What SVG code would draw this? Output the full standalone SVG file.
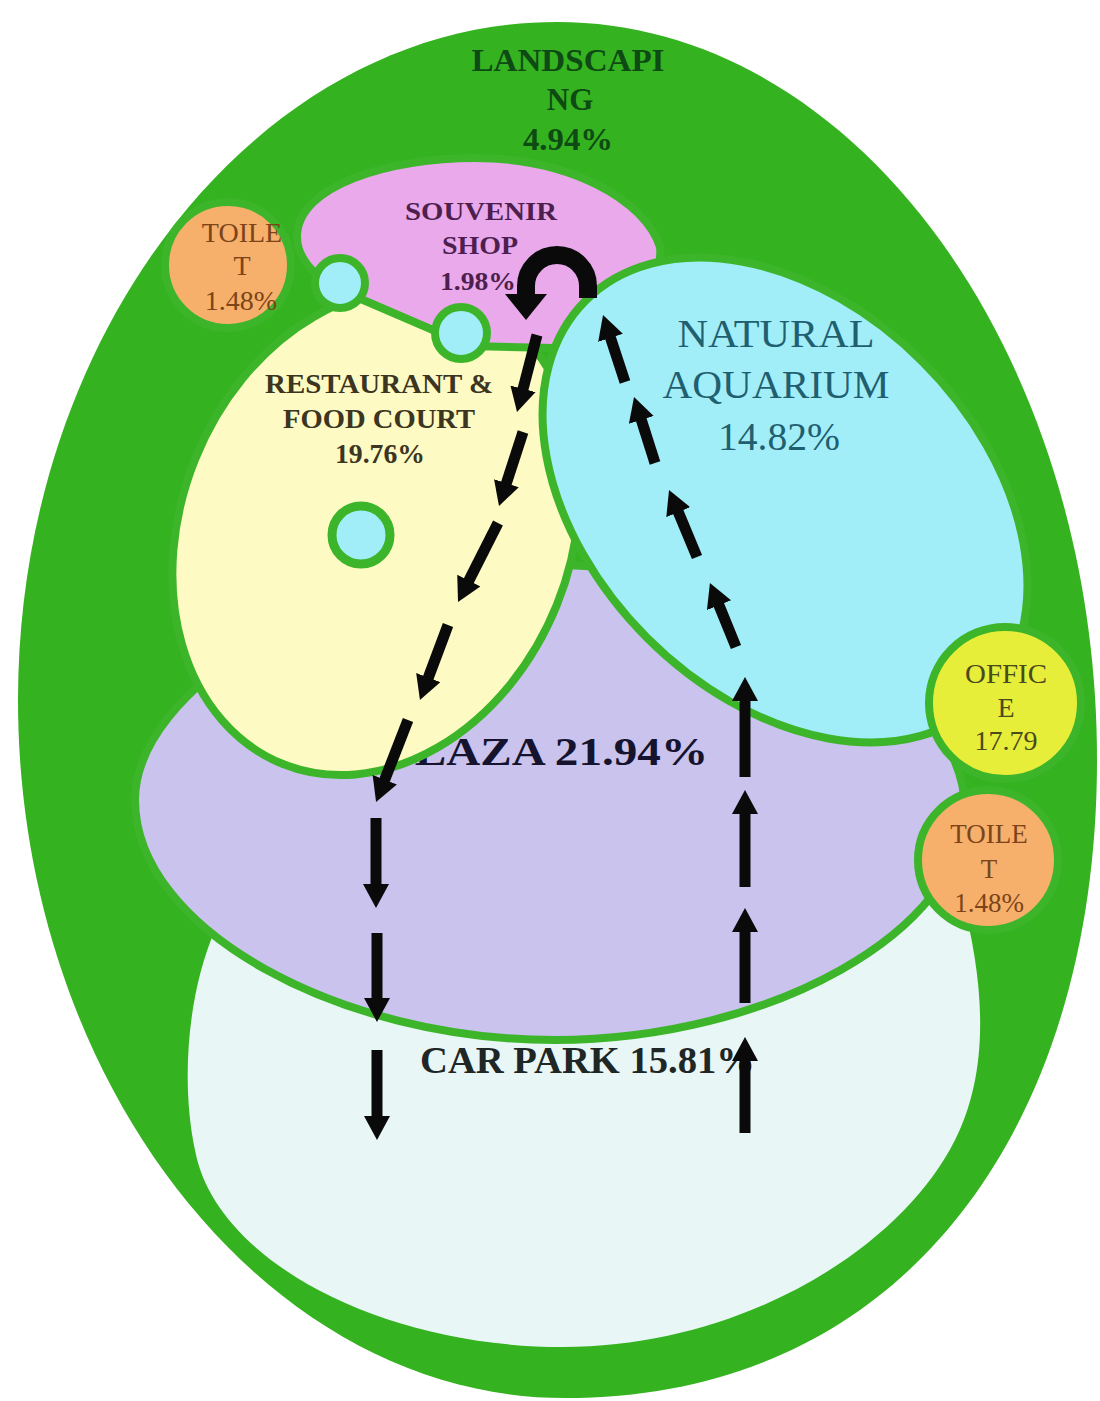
<svg xmlns="http://www.w3.org/2000/svg" width="1100" height="1401" viewBox="0 0 1100 1401">
<style>
.zone{stroke:#3db52a;stroke-width:8}
.lb{font-family:"Liberation Serif","Times New Roman",serif;text-anchor:middle}
.b{font-weight:bold}
.dash{stroke:#0a0a0a;stroke-width:11;fill:none;marker-end:url(#ah)}
</style>
<defs>
<marker id="ah" markerUnits="userSpaceOnUse" markerWidth="24" markerHeight="26" viewBox="0 0 24 26" refX="1" refY="13" orient="auto"><path d="M0,0 L24,13 L0,26 Z" fill="#0a0a0a"/></marker>
</defs>
<rect width="1100" height="1401" fill="#ffffff"/>
<g id="landscaping">
<path d="M557,22 C860,22 1097,360 1097,760 C1097,1120 910,1398 565,1398 C265,1398 18,1080 18,700 C18,330 260,22 557,22 Z" fill="#35b21f"/>
<g class="lb b" fill="#0e4a14" font-size="31">
<text x="568" y="71" textLength="193" lengthAdjust="spacingAndGlyphs">LANDSCAPI</text>
<text x="570" y="110">NG</text>
<text x="568" y="150" textLength="90" lengthAdjust="spacingAndGlyphs">4.94%</text>
</g>
</g>
<g id="car-park">
<path d="M215,930 C185,1000 182,1090 195,1150 C215,1260 380,1347 563,1347 C740,1347 900,1250 955,1140 C985,1080 990,1000 960,890 Z" fill="#e8f6f5"/>
<text class="lb b" x="420" y="1073" font-size="37" fill="#1e2626" style="text-anchor:start" textLength="335" lengthAdjust="spacingAndGlyphs">CAR PARK 15.81%</text>
</g>
<g id="plaza">
<path class="zone" d="M135,800 C135,690 330,565 550,565 C770,565 965,690 965,810 C965,930 770,1040 555,1040 C340,1040 135,930 135,800 Z" fill="#c9c3ee"/>
<text class="lb b" x="386" y="765" font-size="40" fill="#15132e" style="text-anchor:start" textLength="322" lengthAdjust="spacingAndGlyphs">PLAZA 21.94%</text>
</g>
<g id="restaurant">
<ellipse class="zone" cx="376" cy="532" rx="195" ry="250" transform="rotate(22 376 532)" fill="#fdfbc3"/>
<g class="lb b" fill="#3b3522" font-size="27">
<text x="379" y="393" textLength="228" lengthAdjust="spacingAndGlyphs">RESTAURANT &amp;</text>
<text x="379" y="428" textLength="192" lengthAdjust="spacingAndGlyphs">FOOD COURT</text>
<text x="380" y="463" textLength="90" lengthAdjust="spacingAndGlyphs">19.76%</text>
</g>
</g>
<g id="restaurant-pool">
<circle cx="361" cy="535" r="29" fill="#a2eef8" stroke="#3db52a" stroke-width="9"/>
</g>
<g id="toilet-1">
<circle class="zone" cx="228" cy="265" r="63" fill="#f6b06c"/>
<g class="lb" fill="#7c4418" font-size="28">
<text x="242" y="242">TOILE</text>
<text x="242" y="275">T</text>
<text x="241" y="310">1.48%</text>
</g>
</g>
<g id="souvenir-shop">
<path class="zone" d="M297,237 C297,185 390,158 475,158 C570,158 645,200 660,247 C665,300 600,348 553,348 L470,346 L340,290 C312,276 297,256 297,237 Z" fill="#e9a9eb"/>
<g class="lb b" fill="#4d1f4f" font-size="25">
<text x="481" y="220" textLength="152" lengthAdjust="spacingAndGlyphs">SOUVENIR</text>
<text x="480" y="254" textLength="76" lengthAdjust="spacingAndGlyphs">SHOP</text>
<text x="478" y="290" textLength="76" lengthAdjust="spacingAndGlyphs">1.98%</text>
</g>
</g>
<g id="pool-1">
<circle cx="340" cy="283" r="25" fill="#a2eef8" stroke="#3db52a" stroke-width="8"/>
</g>
<g id="pool-2">
<circle cx="461" cy="333" r="26" fill="#a2eef8" stroke="#3db52a" stroke-width="8"/>
</g>
<g id="natural-aquarium">
<ellipse class="zone" cx="785" cy="500" rx="282" ry="195" transform="rotate(45 785 500)" fill="#a2eef8"/>
<g class="lb" fill="#1f5f70" font-size="40">
<text x="776" y="347" textLength="197" lengthAdjust="spacingAndGlyphs">NATURAL</text>
<text x="776" y="398" textLength="227" lengthAdjust="spacingAndGlyphs">AQUARIUM</text>
<text x="779" y="450" textLength="122" lengthAdjust="spacingAndGlyphs">14.82%</text>
</g>
</g>
<g id="toilet-2">
<circle class="zone" cx="988" cy="860" r="70" fill="#f6b06c"/>
<g class="lb" fill="#7c4418" font-size="27">
<text x="989" y="843">TOILE</text>
<text x="989" y="878">T</text>
<text x="989" y="912">1.48%</text>
</g>
</g>
<g id="office">
<circle class="zone" cx="1005" cy="703" r="76" fill="#e6ee3a"/>
<g class="lb" fill="#4a4a1a" font-size="28">
<text x="1006" y="683" textLength="82" lengthAdjust="spacingAndGlyphs">OFFIC</text>
<text x="1006" y="717">E</text>
<text x="1006" y="750">17.79</text>
</g>
</g>
<g id="connectors">
<path d="M588,298 L588,286 A31,31 0 0 0 526,286 L526,296" stroke="#0a0a0a" stroke-width="18" fill="none"/>
<polygon points="505,294 547,294 526,320" fill="#0a0a0a"/>
<line class="dash" x1="537" y1="335" x2="522.8" y2="389.8"/>
<line class="dash" x1="523" y1="432" x2="506.1" y2="484.1"/>
<line class="dash" x1="498" y1="523" x2="468.4" y2="581.5"/>
<line class="dash" x1="448" y1="625" x2="428" y2="678.5"/>
<line class="dash" x1="408" y1="720" x2="384.4" y2="780.6"/>
<line class="dash" x1="376" y1="818" x2="376" y2="885"/>
<line class="dash" x1="377" y1="933" x2="377" y2="999"/>
<line class="dash" x1="377" y1="1050" x2="377" y2="1117"/>
<line class="dash" x1="745" y1="1133" x2="745" y2="1060"/>
<line class="dash" x1="745" y1="1003" x2="745" y2="931"/>
<line class="dash" x1="745" y1="887" x2="745" y2="813"/>
<line class="dash" x1="745" y1="777" x2="745" y2="700"/>
<line class="dash" x1="736" y1="647" x2="718.6" y2="604.3"/>
<line class="dash" x1="697" y1="557" x2="677.9" y2="511.2"/>
<line class="dash" x1="655" y1="463" x2="641" y2="418.9"/>
<line class="dash" x1="625" y1="382" x2="610.2" y2="336.9"/>
</g>
</svg>
